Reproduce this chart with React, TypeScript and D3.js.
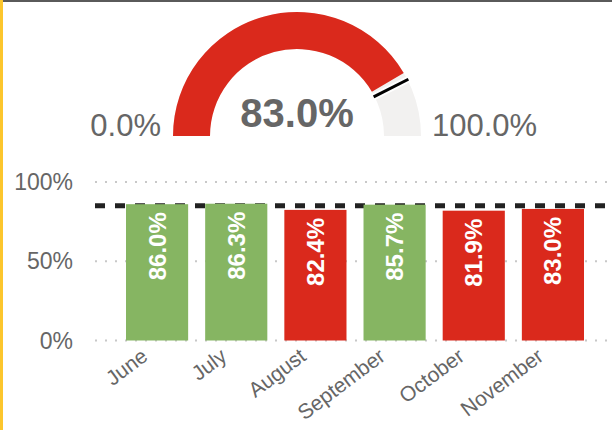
import React from "react";
import * as d3 from "d3";

const months = ["June", "July", "August", "September", "October", "November"];
const values = [0.86, 0.863, 0.824, 0.857, 0.819, 0.83];
const target = 0.85;
const gaugeValue = 0.83;
const gaugeMin = 0;
const gaugeMax = 1;
const yTicks = [0, 0.5, 1];

const W = 612;
const H = 430;
const RED = "#DA291C";
const GREEN = "#86B562";
const GRAY_TEXT = "#666666";
const FONT = "'Liberation Sans', Arial, sans-serif";

export default function App() {
  const x = d3.scaleBand<string>().domain(months).range([126, 584]).paddingInner(0.215).paddingOuter(0);
  const y = d3.scaleLinear().domain([0, 1]).range([340.5, 182]);
  const pct0 = d3.format(".0%");
  const pct1 = d3.format(".1%");

  // gauge
  const cx = 297, cy = 136, rOuter = 124, rInner = 87;
  const ang = d3.scaleLinear().domain([gaugeMin, gaugeMax]).range([-Math.PI / 2, Math.PI / 2]);
  const arc = d3.arc<any>().innerRadius(rInner).outerRadius(rOuter);
  const bgPath = arc({ startAngle: ang(gaugeMin), endAngle: ang(gaugeMax) }) as string;
  const valPath = arc({ startAngle: ang(gaugeMin), endAngle: ang(gaugeValue) }) as string;
  const ta = ang(target);
  const mx1 = Math.sin(ta) * (rInner - 1), my1 = -Math.cos(ta) * (rInner - 1);
  const mx2 = Math.sin(ta) * (rOuter + 1), my2 = -Math.cos(ta) * (rOuter + 1);

  return (
    <svg width={W} height={H} style={{ position: "absolute", left: 0, top: 0, background: "#fff" }} fontFamily={FONT}>
      <rect x={0} y={0} width={W} height={H} fill="#fff" />
      <rect x={0} y={0} width={W} height={2} fill="#5a5a5a" />
      <rect x={0} y={0} width={3} height={H} fill="#FCC62D" />

      {/* gauge */}
      <g transform={`translate(${cx},${cy})`}>
        <path d={bgPath} fill="#F2F1F0" />
        <path d={valPath} fill={RED} />
        <line x1={mx1} y1={my1} x2={mx2} y2={my2} stroke="#fff" strokeWidth={7} />
        <line x1={mx1} y1={my1} x2={mx2} y2={my2} stroke="#000" strokeWidth={3} />
      </g>
      <text x={161} y={136} textAnchor="end" fontSize={31} fill={GRAY_TEXT}>{pct1(gaugeMin)}</text>
      <text x={432} y={136} textAnchor="start" fontSize={31} fill={GRAY_TEXT}>{pct1(gaugeMax)}</text>
      <text x={cx} y={127} textAnchor="middle" fontSize={40} fontWeight="bold" fill={GRAY_TEXT}>{pct1(gaugeValue)}</text>

      {/* grid */}
      {yTicks.map((t) => (
        <g key={t}>
          <line x1={95} x2={608} y1={y(t)} y2={y(t)} stroke="#c8c8c8" strokeWidth={2} strokeDasharray="2 8" />
          <text x={73} y={y(t)} dy="0.35em" textAnchor="end" fontSize={23} fill={GRAY_TEXT}>{pct0(t)}</text>
        </g>
      ))}

      {/* target line */}
      <line x1={95} x2={608} y1={y(target)} y2={y(target)} stroke="#222" strokeWidth={5} strokeDasharray="10 10" />

      {/* bars */}
      {months.map((m, i) => {
        const v = values[i];
        const bx = x(m)!;
        const bw = x.bandwidth();
        const top = y(v);
        const c = bx + bw / 2;
        return (
          <g key={m}>
            <rect x={bx} y={top} width={bw} height={y(0) - top} fill={v >= target ? GREEN : RED} />
            <text
              transform={`translate(${c + 8.5},${top + 8}) rotate(-90)`}
              textAnchor="end"
              fontSize={24}
              fontWeight="bold"
              fill="#fff"
            >
              {pct1(v)}
            </text>
            <text
              transform={`translate(${c - 8},${359}) rotate(-37)`}
              textAnchor="end"
              fontSize={21}
              fill={GRAY_TEXT}
            >
              {m}
            </text>
          </g>
        );
      })}
    </svg>
  );
}
